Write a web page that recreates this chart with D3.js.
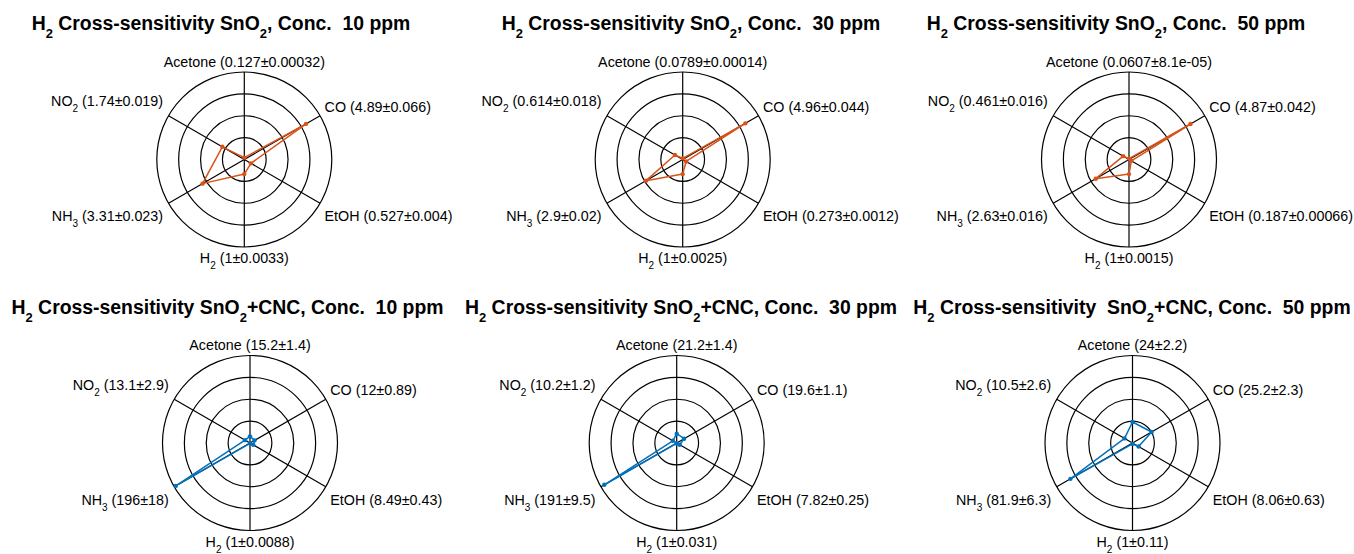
<!DOCTYPE html>
<html>
<head>
<meta charset="utf-8">
<script src="https://cdn.jsdelivr.net/npm/d3@7"></script>
<style>
  body { margin: 0; background: #fff; }
  text { font-family: "Liberation Sans", Arial, sans-serif; fill: #000; white-space: pre; }
</style>
</head>
<body>
<svg id="chart" width="1354" height="554"></svg>
<script>
// gases, clockwise from the top
var gases = ["Acetone", "CO", "EtOH", "H_2", "NH_3", "NO_2"];

var titles = [
    "H_2 Cross-sensitivity SnO_2, Conc.  10 ppm",
    "H_2 Cross-sensitivity SnO_2, Conc.  30 ppm",
    "H_2 Cross-sensitivity SnO_2, Conc.  50 ppm",
    "H_2 Cross-sensitivity SnO_2+CNC, Conc.  10 ppm",
    "H_2 Cross-sensitivity SnO_2+CNC, Conc.  30 ppm",
    "H_2 Cross-sensitivity  SnO_2+CNC, Conc.  50 ppm"
];

var sno2_10 = [0.127, 4.89, 0.527, 1, 3.31, 1.74];
var sno2_10_err = [0.00032, 0.066, 0.004, 0.0033, 0.023, 0.019];
var sno2_30 = [0.0789, 4.96, 0.273, 1, 2.9, 0.614];
var sno2_30_err = [0.00014, 0.044, 0.0012, 0.0025, 0.02, 0.018];
var sno2_50 = [0.0607, 4.87, 0.187, 1, 2.63, 0.461];
var sno2_50_err = [8.1e-05, 0.042, 0.00066, 0.0015, 0.016, 0.016];
var cnc_10 = [15.2, 12, 8.49, 1, 196, 13.1];
var cnc_10_err = [1.4, 0.89, 0.43, 0.0088, 18, 2.9];
var cnc_30 = [21.2, 19.6, 7.82, 1, 191, 10.2];
var cnc_30_err = [1.4, 1.1, 0.25, 0.031, 9.5, 1.2];
var cnc_50 = [24, 25.2, 8.06, 1, 81.9, 10.5];
var cnc_50_err = [2.2, 2.3, 0.63, 0.11, 6.3, 2.6];

// outer ring value of each plot
var rMax = [6, 6, 6, 200, 200, 100];

var series = [sno2_10, sno2_30, sno2_50, cnc_10, cnc_30, cnc_50];
var errors = [sno2_10_err, sno2_30_err, sno2_50_err, cnc_10_err, cnc_30_err, cnc_50_err];

// layout
var R = 87.5;
var panels = [
    { cx: 244.3, cy: 159.5, tx: 221,   ty: 30 },
    { cx: 682.7, cy: 159.5, tx: 691,   ty: 30 },
    { cx: 1129,  cy: 159.5, tx: 1116,  ty: 30 },
    { cx: 250,   cy: 443,   tx: 227.5, ty: 313.7 },
    { cx: 676.7, cy: 443,   tx: 681,   ty: 313.7 },
    { cx: 1132.5,cy: 443,   tx: 1132,  ty: 313.7 }
];
var colors = ["#D95319", "#D95319", "#D95319", "#0072BD", "#0072BD", "#0072BD"];

var svg = d3.select("#chart");
svg.append("rect").attr("width", 1354).attr("height", 554).attr("fill", "#fff");

// like matlab %g
function fmtG(v) {
    if (v !== 0 && Math.abs(v) < 1e-4) {
        var parts = v.toExponential().split("e");
        var ex = +parts[1];
        return parts[0] + "e" + (ex < 0 ? "-" : "+") + String(Math.abs(ex)).padStart(2, "0");
    }
    return String(+v.toPrecision(4));
}

// writes "NO_2" style strings, digit after _ is a subscript
function richText(sel, str, subSize, subShift) {
    var parts = str.split(/(_\d)/).filter(function(s) { return s.length; });
    var pending = 0;
    parts.forEach(function(p) {
        if (p[0] == "_") {
            sel.append("tspan").attr("dy", subShift - pending)
                .attr("font-size", subSize).text(p.slice(1));
            pending = subShift;
        } else {
            sel.append("tspan").attr("dy", -pending).text(p);
            pending = 0;
        }
    });
}

var angle = d3.scaleLinear().domain([0, gases.length]).range([0, 2 * Math.PI]);

panels.forEach(function(p, k) {
    var g = svg.append("g").attr("transform", "translate(" + p.cx + "," + p.cy + ")");
    var r = d3.scaleLinear().domain([0, rMax[k]]).range([0, R]);
    var rings = d3.range(1, 5).map(function(i) { return rMax[k] * i / 4; });

    g.selectAll("circle.ring").data(rings).enter()
        .append("circle").attr("class", "ring")
        .attr("r", function(d) { return r(d); })
        .attr("fill", "none").attr("stroke", "#000").attr("stroke-width", 1.2);

    g.selectAll("line.spoke").data(gases).enter()
        .append("line").attr("class", "spoke")
        .attr("x1", 0).attr("y1", 0)
        .attr("x2", function(d, i) { return R * Math.sin(angle(i)); })
        .attr("y2", function(d, i) { return -R * Math.cos(angle(i)); })
        .attr("stroke", "#000").attr("stroke-width", 1.2);

    var vals = series[k];
    var line = d3.lineRadial()
        .angle(function(d, i) { return angle(i); })
        .radius(function(d) { return r(d); })
        .curve(d3.curveLinearClosed);

    g.append("path").datum(vals)
        .attr("d", line)
        .attr("fill", "none")
        .attr("stroke", colors[k])
        .attr("stroke-width", 1.5)
        .attr("stroke-linejoin", "round");

    g.selectAll("circle.pt").data(vals).enter()
        .append("circle").attr("class", "pt")
        .attr("cx", function(d, i) { return r(d) * Math.sin(angle(i)); })
        .attr("cy", function(d, i) { return -r(d) * Math.cos(angle(i)); })
        .attr("r", 2.2)
        .attr("fill", colors[k]);

    // axis labels
    gases.forEach(function(name, i) {
        var a = angle(i);
        var sx = Math.sin(a), cy = Math.cos(a);
        var hasSub = name.indexOf("_") >= 0;
        var x, y, anchor;
        if (Math.abs(sx) < 1e-6) {
            anchor = "middle";
            x = 0;
            y = cy > 0 ? -R - 5.5 : R + 16;
        } else {
            anchor = sx > 0 ? "start" : "end";
            x = sx > 0 ? R * sx + 4.5 : R * sx - 5.5;
            if (cy > 0) y = -R * cy - 4 - (hasSub ? 5.5 : 0);
            else y = -R * cy + 18;
        }
        var t = g.append("text")
            .attr("x", x).attr("y", y)
            .attr("text-anchor", anchor)
            .attr("font-size", 14.3);
        richText(t, name + " (" + fmtG(vals[i]) + "\u00B1" + fmtG(errors[k][i]) + ")", 10, 6);
    });

    var title = svg.append("text")
        .attr("x", p.tx).attr("y", p.ty)
        .attr("text-anchor", "middle")
        .attr("font-size", 19.4)
        .attr("font-weight", "bold");
    richText(title, titles[k], 13, 8);
});
</script>
</body>
</html>
